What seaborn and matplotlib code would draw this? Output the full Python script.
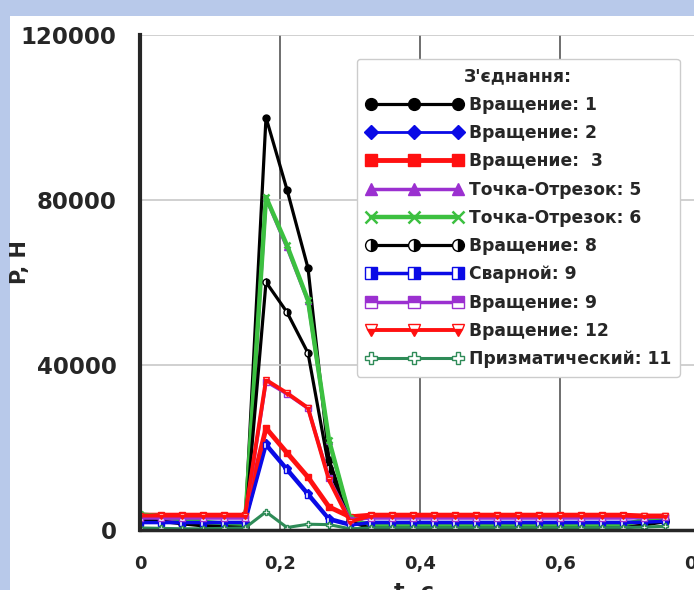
import matplotlib
matplotlib.use("Agg")
import matplotlib.pyplot as plt
from matplotlib.patches import Rectangle
from matplotlib.ticker import MultipleLocator, FixedLocator, FuncFormatter
import seaborn as sns

# время, с
t = [0.00, 0.03, 0.06, 0.09, 0.12, 0.15, 0.18, 0.21, 0.24, 0.27, 0.30, 0.33, 0.36,
     0.39, 0.42, 0.45, 0.48, 0.51, 0.54, 0.57, 0.60, 0.63, 0.66, 0.69, 0.72, 0.75]

# усилие P, Н для каждого соединения
vr1 = [3200, 2900, 2300, 1600, 1100, 900, 100000, 82500, 63500, 17000, 2500, 500, 400,
       400, 400, 400, 400, 400, 400, 400, 400, 400, 400, 600, 1500, 2500]
vr2 = [1900, 1900, 1900, 1900, 1900, 1900, 21000, 15000, 9000, 2900, 1500, 1900, 1900,
       1900, 1900, 1900, 1900, 1900, 1900, 1900, 1900, 1900, 1900, 1900, 2000, 2200]
vr3 = [3600, 3600, 3600, 3600, 3600, 3600, 24700, 18700, 12800, 5600, 3200, 3600, 3600,
       3600, 3600, 3600, 3600, 3600, 3600, 3600, 3600, 3600, 3600, 3600, 3400, 3400]
to5 = [2800, 2500, 2000, 1600, 1200, 1000, 80500, 68500, 55500, 21500, 3000, 1000, 1000,
       1000, 1000, 1000, 1000, 1000, 1000, 1000, 1000, 1000, 1000, 1200, 2000, 3000]
to6 = [3800, 3300, 2600, 2000, 1500, 1200, 80700, 69000, 55700, 21800, 3000, 900, 900,
       900, 900, 900, 900, 900, 900, 900, 900, 900, 900, 1200, 2500, 3200]
vr8 = [2600, 2100, 1500, 1000, 800, 600, 60100, 52800, 42900, 15000, 2000, 400, 400,
       400, 400, 400, 400, 400, 400, 400, 400, 400, 400, 500, 1200, 2000]
sv9 = [1800, 1800, 1800, 1800, 1800, 1800, 20500, 14500, 8500, 2500, 1200, 1800, 1800,
       1800, 1800, 1800, 1800, 1800, 1800, 1800, 1800, 1800, 1800, 1800, 1900, 2100]
vr9 = [2900, 2900, 2900, 2900, 2900, 2900, 36000, 33000, 29500, 12500, 2500, 2900, 2900,
       2900, 2900, 2900, 2900, 2900, 2900, 2900, 2900, 2900, 2900, 2900, 3000, 3200]
vr12 = [3500, 3500, 3500, 3500, 3500, 3500, 36400, 33200, 29600, 12100, 2000, 3500, 3500,
        3500, 3500, 3500, 3500, 3500, 3500, 3500, 3500, 3500, 3500, 3500, 3300, 3300]
pr11 = [500, 400, 300, 300, 400, 500, 4400, 600, 1400, 1300, 300, 500, 500,
        500, 500, 500, 500, 500, 500, 500, 500, 500, 500, 600, 700, 900]

y_ticks = [0, 40000, 80000, 120000]
x_ticks = [0, 0.2, 0.4, 0.6, 0.8]

NEGRO, AZUL, ROJO, VIOLETA = "black", "#0a0ae6", "#ff1010", "#9b30d0"
VERDE, TURQUESA = "#3cc040", "#2e8b57"

series = [
    ("Вращение: 1", vr1, dict(color=NEGRO, marker="o", lw=2.3, ms=5)),
    ("Вращение: 2", vr2, dict(color=AZUL, marker="D", lw=2.0, ms=4)),
    ("Вращение:  3", vr3, dict(color=ROJO, marker="s", lw=3.5, ms=5)),
    ("Точка-Отрезок: 5", to5, dict(color=VIOLETA, marker="^", lw=2.5, ms=5)),
    ("Точка-Отрезок: 6", to6, dict(color=VERDE, marker="x", lw=3.2, ms=5, mew=1.8)),
    ("Вращение: 8", vr8, dict(color=NEGRO, marker="o", lw=2.3, ms=5,
                              fillstyle="right", markerfacecoloralt="white")),
    ("Сварной: 9", sv9, dict(color=AZUL, marker="s", lw=2.5, ms=5,
                             fillstyle="right", markerfacecoloralt="white")),
    ("Вращение: 9", vr9, dict(color=VIOLETA, marker="s", lw=2.5, ms=5,
                              fillstyle="top", markerfacecoloralt="white")),
    ("Вращение: 12", vr12, dict(color=ROJO, marker="v", lw=2.8, ms=5,
                                fillstyle="bottom", markerfacecoloralt="white")),
    ("Призматический: 11", pr11, dict(color=TURQUESA, marker="P", lw=2.2, ms=5,
                                      mfc="white")),
]

sns.set_style("white")
plt.rcParams["font.family"] = ["DejaVu Sans"]
plt.rcParams["font.weight"] = "bold"

fig = plt.figure(figsize=(6.94, 5.9), dpi=100)
fig.patch.set_facecolor("#b8c9ea")
fig.patches.append(Rectangle((10 / 694, 0), 1, 1 - 16 / 590, transform=fig.transFigure,
                             facecolor="white", edgecolor="none", zorder=-5))

ax = fig.add_axes([140 / 694, 1 - 530 / 590, 595 / 694, 495 / 590])
ax.set_facecolor("none")
ax.set_zorder(2)

for nombre, valores, estilo in series:
    estilo.setdefault("mew", 1.0)
    sns.lineplot(x=t, y=valores, ax=ax, label=nombre, mec=estilo["color"], **estilo)

ax.set_xlim(0, 0.85)
ax.set_ylim(0, 120000)
ax.xaxis.set_major_locator(FixedLocator(x_ticks))
ax.xaxis.set_minor_locator(MultipleLocator(0.1))
ax.yaxis.set_major_locator(FixedLocator(y_ticks))
ax.yaxis.set_minor_locator(MultipleLocator(20000))
ax.xaxis.set_major_formatter(FuncFormatter(lambda v, p: f"{v:g}".replace(".", ",")))

for lado in ["top", "right"]:
    ax.spines[lado].set_visible(False)
ax.spines["left"].set_linewidth(3)
ax.spines["bottom"].set_linewidth(2.5)
ax.spines["left"].set_zorder(5)
ax.spines["bottom"].set_zorder(5)

ax.tick_params(axis="both", which="major", direction="out", length=8, width=2.5,
               color="black")
ax.tick_params(axis="both", which="minor", direction="out", length=5, width=2.5,
               color="black")
ax.tick_params(axis="x", which="major", pad=10, labelsize=13)
ax.tick_params(axis="y", which="major", pad=9, labelsize=16.5)

ax.grid(False)
for xv in x_ticks[1:]:
    ax.axvline(xv, color="#555555", lw=1.2, zorder=0.5)
for yv in y_ticks[1:]:
    ax.axhline(yv, color="#c8c8c8", lw=1.2, zorder=0.5)

ax.set_ylabel("P, H", fontsize=15, fontweight="bold")
ax.yaxis.set_label_coords(30 / 694, 1 - 262 / 590, transform=fig.transFigure)
ax.set_xlabel("t, c", fontsize=16, fontweight="bold")
ax.xaxis.set_label_coords(414 / 694, 1 - 582 / 590, transform=fig.transFigure)

leg = ax.legend(title="З'єднання:", loc="upper left",
                bbox_to_anchor=(357 / 694, 1 - 59 / 590), bbox_transform=fig.transFigure,
                numpoints=3, handlelength=5.7, handletextpad=0.35, markerscale=1.7,
                labelspacing=0.6, borderpad=0.5, borderaxespad=0, fontsize=12.3,
                title_fontproperties={"weight": "bold", "size": 12.5},
                frameon=True, fancybox=True, framealpha=1, edgecolor="#cccccc")
leg.get_frame().set_linewidth(1.0)
leg.set_zorder(10)

fig.savefig("out.png", dpi=100, facecolor=fig.get_facecolor())
